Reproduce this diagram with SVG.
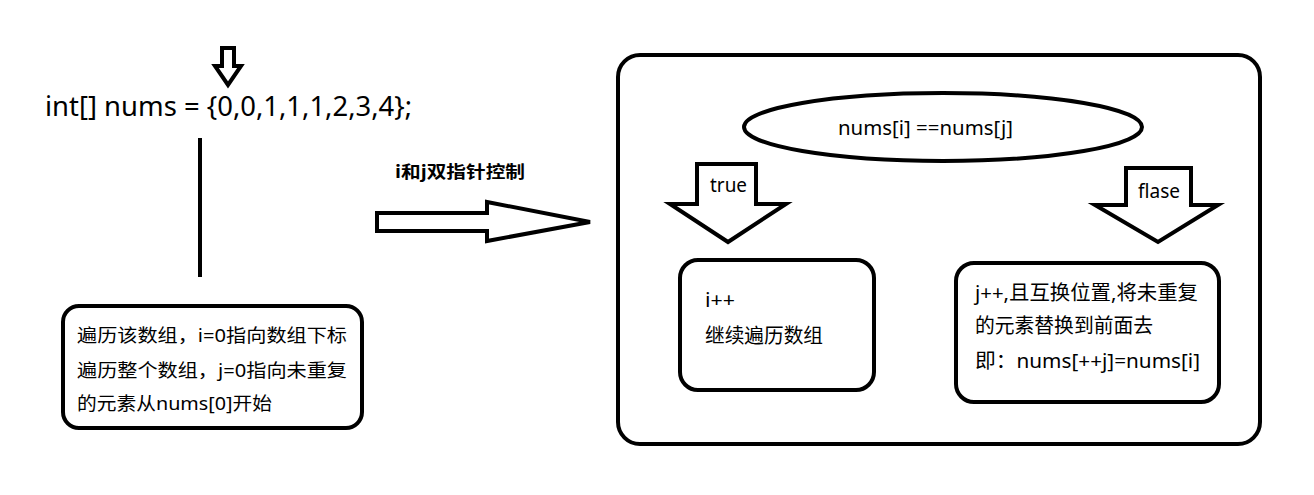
<svg xmlns="http://www.w3.org/2000/svg" width="1314" height="495" viewBox="0 0 1314 495">
<style>
.s{fill:none;stroke:#000;stroke-width:4;stroke-linejoin:miter}
.w{fill:#fff;stroke:#000;stroke-width:4;stroke-linejoin:miter}
.t{font-family:"Noto Sans","Noto Sans CJK SC",sans-serif;fill:#000}
.b{font-family:"Noto Sans CJK SC","Noto Sans",sans-serif;font-weight:bold;fill:#000}
</style>
<rect width="1314" height="495" fill="#fff"/>
<g id="code">
<text class="t" x="45" y="116" font-size="28" textLength="367" lengthAdjust="spacingAndGlyphs">int[] nums = {0,0,1,1,1,2,3,4};</text>
</g>
<g id="connectors">
<polygon class="w" stroke-width="3.5" points="222,48 234,48 234,66 241,66 228,85 215,66 222,66"/>
<line class="s" x1="200" y1="138" x2="200" y2="277" stroke-width="4.5"/>
<polygon class="w" points="377,213 487,213 487,202 590,222 487,241 487,231 377,231"/>
<text class="b" x="395" y="178" font-size="17" textLength="130" lengthAdjust="spacingAndGlyphs">i和j双指针控制</text>
<polygon class="w" points="697,164 756,164 756,204 786,204 728,242 670,204 697,204"/>
<text class="t" x="710" y="192" font-size="19" textLength="37" lengthAdjust="spacingAndGlyphs">true</text>
<polygon class="w" points="1126,168 1191,168 1191,205 1218,205 1158,242 1095,205 1126,205"/>
<text class="t" x="1138" y="198" font-size="19" textLength="42" lengthAdjust="spacingAndGlyphs">flase</text>
</g>
<g id="init-box">
<rect class="w" x="63" y="306" width="299" height="122" rx="16"/>
<text class="t" x="77" y="342" font-size="18.5" textLength="270" lengthAdjust="spacingAndGlyphs">遍历该数组，i=0指向数组下标</text>
<text class="t" x="77" y="377" font-size="18.5" textLength="270" lengthAdjust="spacingAndGlyphs">遍历整个数组，j=0指向未重复</text>
<text class="t" x="77" y="410" font-size="18.5" textLength="195" lengthAdjust="spacingAndGlyphs">的元素从nums[0]开始</text>
</g>
<g id="container">
<rect class="s" x="618" y="55" width="642" height="389" rx="22"/>
</g>
<g id="condition">
<ellipse class="w" cx="943" cy="127" rx="199" ry="34"/>
<text class="t" x="838" y="135" font-size="19.5" textLength="175" lengthAdjust="spacingAndGlyphs">nums[i] ==nums[j]</text>
</g>
<g id="true-box">
<rect class="w" x="680" y="260" width="194" height="130" rx="18"/>
<text class="t" x="705" y="307" font-size="20" textLength="30" lengthAdjust="spacingAndGlyphs">i++</text>
<text class="t" x="705" y="343" font-size="20" textLength="118" lengthAdjust="spacingAndGlyphs">继续遍历数组</text>
</g>
<g id="false-box">
<rect class="w" x="956" y="263" width="263" height="139" rx="18"/>
<text class="t" x="975" y="300" font-size="20" textLength="223" lengthAdjust="spacingAndGlyphs">j++,且互换位置,将未重复</text>
<text class="t" x="975" y="333" font-size="20" textLength="178" lengthAdjust="spacingAndGlyphs">的元素替换到前面去</text>
<text class="t" x="975" y="368" font-size="20" textLength="225" lengthAdjust="spacingAndGlyphs">即：nums[++j]=nums[i]</text>
</g>
</svg>
